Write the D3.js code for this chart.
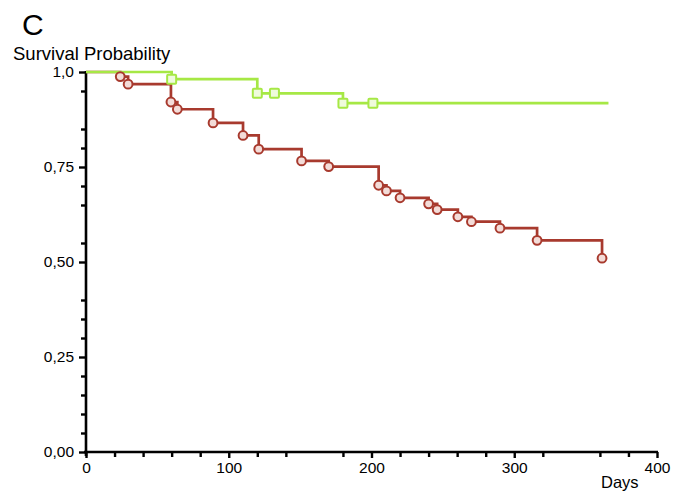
<!DOCTYPE html>
<html>
<head>
<meta charset="utf-8">
<script src="https://cdn.jsdelivr.net/npm/d3@7"></script>
<style>
  html, body { margin: 0; padding: 0; background: #fff; }
  svg { display: block; font-family: "Liberation Sans", Arial, Helvetica, sans-serif; }
</style>
</head>
<body>
<svg id="chart" width="676" height="493"></svg>
<script>
// Kaplan-Meier survival steps, group 1 (red): event day and survival after the event
const redDays = [24, 29.5, 59.5, 64, 89, 110, 121, 151, 170, 205, 210.5, 220, 240, 246, 260.5, 270, 290, 316, 361.5];
const redSurv = [0.988, 0.968, 0.921, 0.902, 0.866, 0.833, 0.797, 0.766, 0.751, 0.702, 0.687, 0.669, 0.653, 0.638, 0.619, 0.606, 0.589, 0.557, 0.510];
const redEnd = 365;

// Group 2 (green): events, plus censored observations without a drop
const greenDays = [60, 120, 180];
const greenSurv = [0.981, 0.944, 0.918];
const greenCensorDays = [132, 201];
const greenEnd = 366;

// Axis ticks
const xMajorTicks = [0, 100, 200, 300, 400];
const xMinorTicks = [20, 40, 60, 80, 120, 140, 180, 220, 240, 260, 280, 320, 360, 380];
const yMajorTicks = [0, 0.25, 0.5, 0.75, 1.0];
const yTickLabels = ["0,00", "0,25", "0,50", "0,75", "1,0"];
const yMinorTicks = [0.05, 0.10, 0.15, 0.20, 0.30, 0.35, 0.40, 0.55, 0.65, 0.70, 0.80, 0.85, 0.95];

const RED = "#a83a2e";
const GREEN = "#a6e845";

const svg = d3.select("#chart");
const x = d3.scaleLinear().domain([0, 400]).range([86, 657]);
const y = d3.scaleLinear().domain([0, 1]).range([452, 72]);

// Panel letter and axis titles
svg.append("text").attr("x", 22).attr("y", 35)
  .attr("font-size", 30).attr("fill", "#000").text("C");
svg.append("text").attr("x", 13).attr("y", 60)
  .attr("font-size", 18.5).attr("fill", "#000").text("Survival Probability");
svg.append("text").attr("x", 601).attr("y", 488)
  .attr("font-size", 16.5).attr("fill", "#000").text("Days");

// Axes
const axisG = svg.append("g");
const yAxis = d3.axisLeft(y).tickValues(yMajorTicks)
  .tickFormat((d, i) => yTickLabels[i]).tickSize(7).tickPadding(5).tickSizeOuter(0);
const yMinor = d3.axisLeft(y).tickValues(yMinorTicks).tickFormat("").tickSize(5).tickSizeOuter(0);
const xAxis = d3.axisBottom(x).tickValues(xMajorTicks).tickFormat(d3.format("d"))
  .tickSize(6).tickPadding(4).tickSizeOuter(0);
const xMinor = d3.axisBottom(x).tickValues(xMinorTicks).tickFormat("").tickSize(5).tickSizeOuter(0);

[
  axisG.append("g").attr("transform", "translate(86,0)").call(yAxis),
  axisG.append("g").attr("transform", "translate(86,0)").call(yMinor),
  axisG.append("g").attr("transform", "translate(0,452)").call(xAxis),
  axisG.append("g").attr("transform", "translate(0,452)").call(xMinor)
].forEach(g => {
  g.select(".domain").remove();
  g.selectAll(".tick line").attr("stroke", "#000").attr("stroke-width", 2.4);
  g.selectAll(".tick text").attr("font-size", 15.5).attr("fill", "#000")
    .attr("font-family", "\"Liberation Sans\", Arial, sans-serif");
});
axisG.append("line").attr("x1", x(0)).attr("x2", x(0)).attr("y1", y(1) - 1).attr("y2", y(0) + 4)
  .attr("stroke", "#000").attr("stroke-width", 2.6);
axisG.append("line").attr("x1", x(0) - 2).attr("x2", x(400) + 1).attr("y1", y(0)).attr("y2", y(0))
  .attr("stroke", "#000").attr("stroke-width", 2.6);

// Survival step curves
function stepPoints(days, surv, end) {
  const pts = [[0, 1]];
  days.forEach((d, i) => pts.push([d, surv[i]]));
  pts.push([end, surv[surv.length - 1]]);
  return pts;
}
const line = d3.line().x(d => x(d[0])).y(d => y(d[1])).curve(d3.curveStepAfter);

svg.append("path").datum(stepPoints(redDays, redSurv, redEnd))
  .attr("d", line).attr("fill", "none").attr("stroke", RED).attr("stroke-width", 2.7);
svg.append("path").datum(stepPoints(greenDays, greenSurv, greenEnd))
  .attr("d", line).attr("fill", "none").attr("stroke", GREEN).attr("stroke-width", 2.7);

// Markers
svg.append("g").selectAll("circle").data(redDays.map((d, i) => [d, redSurv[i]]))
  .join("circle")
  .attr("cx", d => x(d[0])).attr("cy", d => y(d[1])).attr("r", 4.4)
  .attr("fill", "#f3dcd8").attr("stroke", RED).attr("stroke-width", 2);

function survAt(t) {
  let s = 1;
  greenDays.forEach((d, i) => { if (d <= t) s = greenSurv[i]; });
  return s;
}
const greenMarks = greenDays.map((d, i) => [d, greenSurv[i]])
  .concat(greenCensorDays.map(d => [d, survAt(d)]));
svg.append("g").selectAll("rect").data(greenMarks)
  .join("rect")
  .attr("x", d => x(d[0]) - 4.5).attr("y", d => y(d[1]) - 4.5)
  .attr("width", 9).attr("height", 9).attr("rx", 1)
  .attr("fill", "#effbdc").attr("stroke", GREEN).attr("stroke-width", 2);
</script>
</body>
</html>
